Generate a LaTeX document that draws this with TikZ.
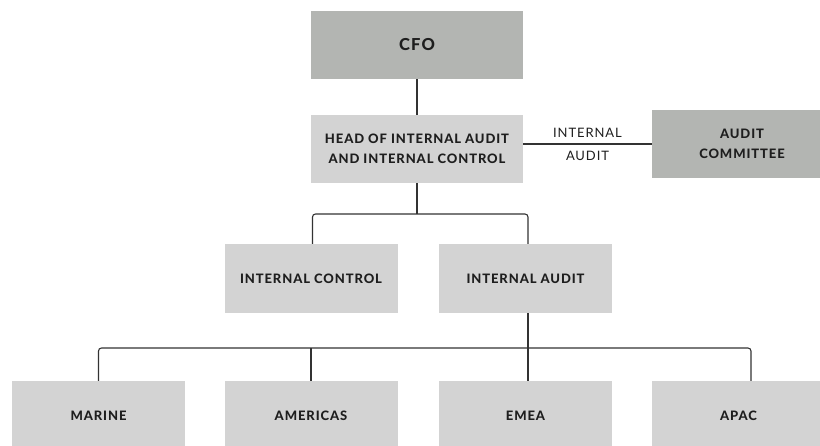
\documentclass[tikz,border=0pt]{standalone}
\usepackage{fontspec}
\setmainfont{Lato}[LetterSpace=7, BoldFont={Lato Heavy}]
\begin{document}
\begin{tikzpicture}[x=1pt,y=-1pt,
  box/.style={rectangle, fill=boxlight, inner sep=0pt, minimum width=173, minimum height=69, font=\bfseries\fontsize{13}{19.5}\selectfont, text=txt, align=center},
  darkbox/.style={box, fill=boxdark},
  conn/.style={draw=ln, line width=1.1pt},
  rc/.style={conn, rounded corners=3pt},
  lbl/.style={font=\fontsize{13}{15}\selectfont, text=txt, inner sep=0pt}]
\definecolor{boxlight}{HTML}{D3D3D3}
\definecolor{boxdark}{HTML}{B3B5B2}
\definecolor{ln}{HTML}{333333}
\definecolor{txt}{HTML}{1E1E1E}
\useasboundingbox (0,0) rectangle (820,446);
\node[darkbox, minimum width=212, minimum height=68, font=\bfseries\fontsize{16.5}{18}\selectfont] (cfo) at (417,45) {CFO};
\node[box, minimum width=212, minimum height=68] (head) at (417,149) {HEAD OF INTERNAL AUDIT\\AND INTERNAL CONTROL};
\node[darkbox, minimum width=180, minimum height=68] (comm) at (742,144) {AUDIT\\COMMITTEE};
\node[box] (ic) at (311,278.5) {INTERNAL CONTROL};
\node[box] (ia) at (525.5,278.5) {INTERNAL AUDIT};
\node[box] (marine) at (98.5,415.5) {MARINE};
\node[box] (amer) at (311,415.5) {AMERICAS};
\node[box] (emea) at (525.5,415.5) {EMEA};
\node[box] (apac) at (738.5,415.5) {APAC};
\coordinate (tb) at (417,214);
\coordinate (bb) at (528,348);
\draw[conn] (cfo.south) -- (head.north);
\draw[conn] (comm.west) -- (comm.west -| head.east) coordinate[midway] (mid);
\node[lbl, anchor=base] (l1) at ([yshift=6]mid) {INTERNAL};
\node[lbl, anchor=base] (l2) at ([yshift=-17]mid) {AUDIT};
\draw[conn] (head.south) -- (tb);
\draw[rc] ([xshift=1.5]ic.north) |- (tb) -| ([xshift=2.5]ia.north);
\draw[conn] ([xshift=2.5]ia.south) -- ([xshift=2.5]emea.north);
\draw[rc] (marine.north) |- (bb) -| ([xshift=12.5]apac.north);
\draw[conn] (amer.north) -- (amer.north |- bb);
\end{tikzpicture}
\end{document}
